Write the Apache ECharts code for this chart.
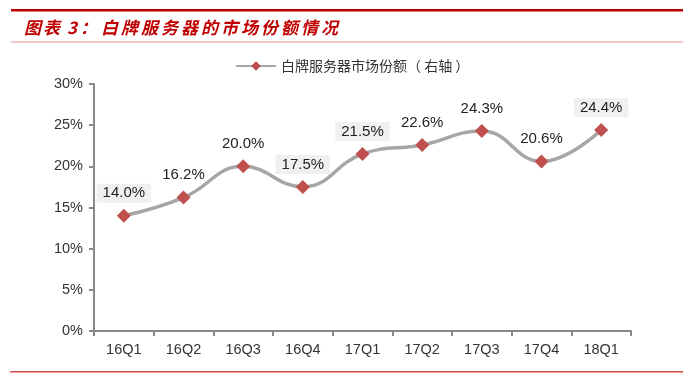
<!DOCTYPE html>
<html><head><meta charset="utf-8">
<script src="https://cdn.jsdelivr.net/npm/echarts@6/dist/echarts.min.js"></script>
<style>html,body{margin:0;padding:0;background:#fff}#c{width:693px;height:382px}</style>
</head><body><div id="c"></div>
<script>
const categories = ['16Q1','16Q2','16Q3','16Q4','17Q1','17Q2','17Q3','17Q4','18Q1'];
const shareValues = [14.0, 16.2, 20.0, 17.5, 21.5, 22.6, 24.3, 20.6, 24.4];
const yTicks = [0, 5, 10, 15, 20, 25, 30];
const seriesName = '白牌服务器市场份额（ 右轴 ）';
const titlePrefix = ['图', '表', '3', '：'];
const titleBody = '白牌服务器的市场份额情况';
const boxedLabels = [0, 3, 4, 8];

const chart = echarts.init(document.getElementById('c'), null, {renderer: 'canvas'});
const data = shareValues.map((v, i) => {
  const item = {value: v};
  if (boxedLabels.includes(i)) {
    item.label = {backgroundColor: '#f0f0f0', padding: [2, 6, 2, 6], distance: 6};
  }
  return item;
});

const titleFont = 'italic bold 17px "Noto Sans CJK SC"';
const prefixX = [24, 43, 67, 80];
const graphics = [
  {type: 'rect', shape: {x: 11, y: 9, width: 672, height: 2.5}, style: {fill: '#c00000'}},
  {type: 'rect', shape: {x: 11, y: 41.5, width: 672, height: 1}, style: {fill: '#e39090'}},
  {type: 'rect', shape: {x: 10, y: 371, width: 673, height: 1.5}, style: {fill: '#d04848'}}
];
titlePrefix.forEach((ch, i) => graphics.push({
  type: 'text', x: prefixX[i], y: 28,
  style: {text: ch, fill: '#c00000', font: titleFont, textVerticalAlign: 'middle'}
}));
titleBody.split('').forEach((ch, i) => graphics.push({
  type: 'text', x: 101 + i * 20, y: 28,
  style: {text: ch, fill: '#c00000', font: titleFont, textVerticalAlign: 'middle'}
}));

chart.setOption({
  animation: false,
  textStyle: {fontFamily: 'Liberation Sans, Arial, sans-serif'},
  graphic: graphics,
  legend: {
    top: 54, left: 230,
    itemWidth: 40, itemHeight: 12, itemGap: 5,
    textStyle: {fontFamily: 'Noto Sans CJK SC', fontSize: 14, color: '#333'},
    data: [seriesName]
  },
  grid: {left: 94, right: 62, top: 84, bottom: 51},
  xAxis: {
    type: 'category', data: categories, boundaryGap: true,
    axisLine: {lineStyle: {color: '#888', width: 2}},
    axisTick: {show: true, length: 5, lineStyle: {color: '#888', width: 2}},
    axisLabel: {color: '#333', fontSize: 14.5, margin: 11}
  },
  yAxis: {
    type: 'value', min: yTicks[0], max: yTicks[yTicks.length - 1], interval: 5,
    axisLine: {show: true, lineStyle: {color: '#888', width: 2}},
    axisTick: {show: true, length: 5, lineStyle: {color: '#888', width: 2}},
    splitLine: {show: false},
    axisLabel: {color: '#333', fontSize: 14.5, margin: 11, formatter: v => v + '%'}
  },
  series: [{
    name: seriesName, type: 'line', smooth: 0.45, data: data,
    symbol: 'diamond', symbolSize: 14,
    lineStyle: {color: '#a6a6a6', width: 3.5},
    itemStyle: {color: '#c0504d'},
    label: {show: true, position: 'top', distance: 8, fontSize: 15, color: '#222',
            formatter: p => p.value.toFixed(1) + '%'}
  }]
});
</script></body></html>
